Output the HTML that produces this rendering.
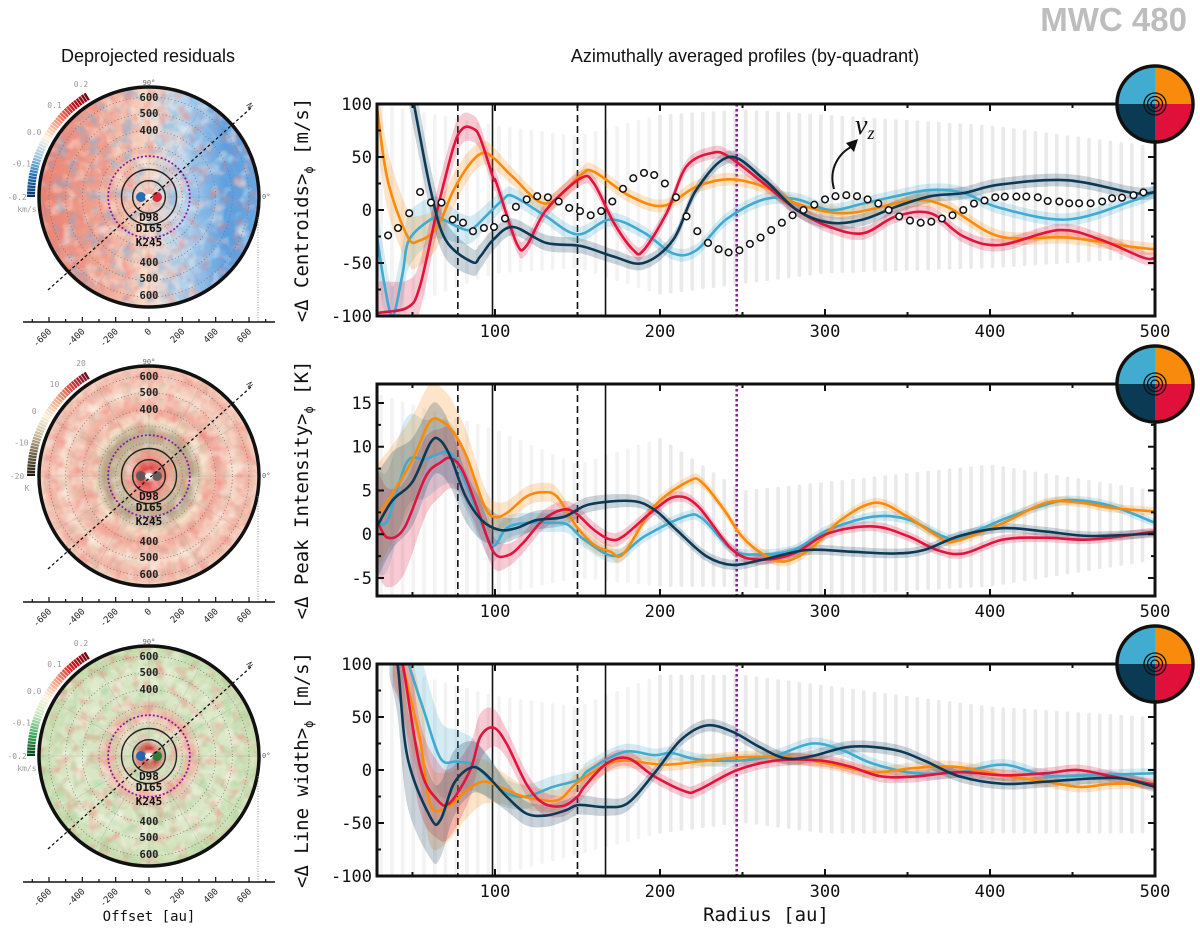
<!DOCTYPE html>
<html><head><meta charset="utf-8">
<style>
html,body{margin:0;padding:0;background:#fff;}
svg{display:block;}
text{font-family:"DejaVu Sans Mono","Liberation Mono",monospace;}
</style></head>
<body>
<svg id="fig" xmlns="http://www.w3.org/2000/svg" width="1200" height="934" viewBox="0 0 1200 934">
<defs>
  <filter id="mottleW" x="0" y="0" width="100%" height="100%">
    <feTurbulence type="fractalNoise" baseFrequency="0.08" numOctaves="2" seed="4"/>
    <feColorMatrix type="matrix" values="0 0 0 0 1  0 0 0 0 0.97  0 0 0 0 0.9  2.2 0 0 0 -1.05"/>
    <feComposite in2="SourceGraphic" operator="in"/>
  </filter>
  <filter id="mRed" x="0" y="0" width="100%" height="100%">
    <feTurbulence type="fractalNoise" baseFrequency="0.09" numOctaves="2" seed="5"/>
    <feColorMatrix type="matrix" values="0 0 0 0 0.88  0 0 0 0 0.22  0 0 0 0 0.2  0 0 2.6 0 -1.25"/>
    <feComposite in2="SourceGraphic" operator="in"/>
  </filter>
  <filter id="mBlue" x="0" y="0" width="100%" height="100%">
    <feTurbulence type="fractalNoise" baseFrequency="0.09" numOctaves="2" seed="17"/>
    <feColorMatrix type="matrix" values="0 0 0 0 0.12  0 0 0 0 0.45  0 0 0 0 0.85  0 0 2.6 0 -1.25"/>
    <feComposite in2="SourceGraphic" operator="in"/>
  </filter>
  <filter id="mBrown" x="0" y="0" width="100%" height="100%">
    <feTurbulence type="fractalNoise" baseFrequency="0.09" numOctaves="2" seed="23"/>
    <feColorMatrix type="matrix" values="0 0 0 0 0.55  0 0 0 0 0.48  0 0 0 0 0.36  0 0 2.6 0 -1.3"/>
    <feComposite in2="SourceGraphic" operator="in"/>
  </filter>
  <filter id="mGreen" x="0" y="0" width="100%" height="100%">
    <feTurbulence type="fractalNoise" baseFrequency="0.09" numOctaves="2" seed="29"/>
    <feColorMatrix type="matrix" values="0 0 0 0 0.35  0 0 0 0 0.65  0 0 0 0 0.33  0 0 2.6 0 -1.25"/>
    <feComposite in2="SourceGraphic" operator="in"/>
  </filter>
  <linearGradient id="g1" x1="0" x2="1" y1="0" y2="0">
    <stop offset="0" stop-color="#e8806f"/><stop offset="0.3" stop-color="#f0a896"/>
    <stop offset="0.5" stop-color="#f6d6c4"/><stop offset="0.66" stop-color="#b8d3ec"/>
    <stop offset="0.85" stop-color="#5d9ddf"/><stop offset="1" stop-color="#6aa6e0"/>
  </linearGradient>
  <radialGradient id="g2" cx="0.5" cy="0.5" r="0.5">
    <stop offset="0" stop-color="#ffffff"/><stop offset="0.07" stop-color="#e23a3a"/>
    <stop offset="0.18" stop-color="#f2a090"/><stop offset="0.27" stop-color="#c9bb9c"/>
    <stop offset="0.4" stop-color="#b3a587"/><stop offset="0.5" stop-color="#f3dcc4"/>
    <stop offset="0.62" stop-color="#f2a99a"/><stop offset="0.78" stop-color="#f6dccb"/>
    <stop offset="0.9" stop-color="#f2b2a2"/><stop offset="1" stop-color="#f6d3c1"/>
  </radialGradient>
  <radialGradient id="g3" cx="0.5" cy="0.5" r="0.5">
    <stop offset="0" stop-color="#ffffff"/><stop offset="0.07" stop-color="#d83030"/>
    <stop offset="0.16" stop-color="#cfe2bf"/><stop offset="0.3" stop-color="#e8d9c0"/>
    <stop offset="0.38" stop-color="#f0b3a3"/><stop offset="0.5" stop-color="#d7e6c3"/>
    <stop offset="0.75" stop-color="#dde8c8"/><stop offset="1" stop-color="#c4dbab"/>
  </radialGradient>
</defs>
<g id="left"></g>
<g id="right"></g>
</svg>
<script>
// ---------------- DATA ----------------
const xTicks = [100, 200, 300, 400, 500];
const cenTicks = [-100, -50, 0, 50, 100];
const piTicks = [-5, 0, 5, 10, 15];
const lwTicks = [-100, -50, 0, 50, 100];

const cenRed = [[28.5,-100],[30,-97],[47,-92],[54.5,-72],[65,0],[75,60],[80.5,77],[86.5,77],[91,68],[99,30],[101,25],[113,-31],[119,-34],[131,0],[152,30],[160,25],[172,-12],[184,-38],[190,-38],[204,-3],[216,41],[232,54],[242,50],[263,25],[283,0],[303,-16],[323,-22],[343,-6],[364,-3],[384,-25],[406,-33],[442,-19],[467,-28],[493,-45],[500,-45]];
const cenOrange = [[28.5,97],[35,28],[47,-25],[54,-29],[65,-16],[75,19],[85,44],[93,54],[100,48],[111,31],[131,6],[152,33],[160,36],[182,13],[202,4],[222,22],[242,29],[263,22],[283,6],[313,-3],[353,9],[374,3],[406,-25],[447,-26],[487,-35],[500,-37]];
const cenCyan = [[28.5,-25],[33,-70],[38,-100],[44,-60],[48,-28],[61,-9],[67,-8],[79,-17],[86,-18],[95,-5],[105,10],[111,13],[130,-5],[150,-23],[170,-9],[190,-21],[208,-41],[222,-38],[240,-9],[263,10],[283,10],[303,0],[323,6],[343,13],[364,19],[384,16],[406,2],[447,-9],[487,9],[500,17]];
const cenNavy = [[46,140],[51,99],[61,19],[70,-28],[86,-49],[91,-44],[99,-28],[111,-16],[131,-31],[152,-34],[172,-44],[190,-50],[208,-28],[222,19],[242,50],[263,29],[283,0],[303,-12],[323,-9],[343,3],[364,13],[384,16],[406,24],[447,28],[487,16],[500,17]];

const vzR = [35.2,41.2,48,54.6,61.2,67.6,74.4,80.6,86.7,93.3,99.4,106.1,112.7,119.2,125.6,132.1,138.6,145,151.5,158,164.4,171.1,177.6,183.8,190.3,196.5,203,209.7,216.1,222.6,229.1,235.5,241.6,248.1,254.5,261,267.4,273.9,280.4,287,293.5,300,306.4,312.9,319.4,325.8,332.3,338.6,345,351.5,358,364.4,370.9,377.3,383.8,390.3,396.7,403.2,409,416,422,429,435,442,448,454,461,468,474,480,487,493];
const vzV = [-24,-17,-3,17,7,7,-9,-12,-20,-17,-16,-8,3,10,13,12,8,2,-1,-5,-1,8,20,30,35,33,25,12,-6,-20,-31,-37,-40,-38,-32,-26,-19,-12,-5,0,5,10,13,14,13,10,6,0,-6,-10,-12,-11,-8,-5,0,6,9,12,12.6,12.6,12.6,12,8.5,8,6.3,6.3,6.3,8,11,11.6,14,16.6];

const piOrange = [[28.5,2.0],[38,4.7],[50,8.5],[60.6,12.9],[68.5,12.8],[74.6,11.7],[83,8.8],[93,3.5],[99,2.0],[107,2.4],[119,4.3],[129,4.8],[137.6,4.3],[149,1.0],[160,-1.2],[170,-2.0],[178,-2.2],[196.6,3.2],[217.7,6.1],[225.6,5.9],[238.8,2.8],[249.4,-0.2],[262.6,-2.3],[275.8,-3.1],[291.7,-1.6],[310,1.7],[331,3.6],[350,2.0],[368,-0.2],[379,-0.8],[408,1.3],[434,3.6],[455,3.6],[474,3.0],[500,2.6]];
const piRed = [[28.5,1.5],[35,-0.4],[45,0.7],[58,6.6],[67,8.2],[73,8.7],[80,7.4],[89,3.1],[99,-2.0],[108,-2.4],[117,-1.0],[129,1.6],[141,2.8],[149,2.4],[160,0.5],[170,-0.6],[178,-0.2],[196.6,2.8],[210,4.3],[223,3.2],[244,-1.8],[260,-2.9],[281,-2.2],[302,0.1],[329,0.9],[350,-0.2],[368,-1.8],[384,-2.2],[408,-0.6],[434,-0.4],[461,-0.6],[500,0.3]];
const piCyan = [[28.5,1.6],[35,1.6],[46.5,8.2],[58,8.6],[73,9.3],[82,5.9],[91,1.6],[99,-1.3],[107,0.7],[119,1.3],[134,1.3],[144,1.1],[154,-0.6],[173,-2.5],[191,-0.2],[215,2.0],[225.6,1.8],[244,-1.8],[260,-2.3],[281,-1.8],[302,0.5],[329,2.0],[350,1.7],[371,-0.2],[381.5,-0.4],[408,1.7],[434,3.4],[450,3.9],[474,3.2],[500,1.3]];
const piNavy = [[28.5,0.9],[38,3.9],[50,6.0],[61,10.5],[67,10.7],[73.6,8.6],[82,4.4],[92,1.6],[102.6,0.5],[113,0.7],[125,1.6],[142,2.0],[157,3.4],[183,3.8],[196.6,2.8],[210,0.5],[228,-2.5],[244,-3.5],[262.6,-2.9],[289,-1.8],[315.5,-2.0],[342,-2.2],[360,-1.8],[381.5,-0.2],[408,0.7],[434,0.3],[461,-0.2],[500,0.1]];

const lwRed = [[38,130],[44,100],[54.6,3],[65,-28],[72.7,-31],[85,0],[91,31],[99,40],[107,25],[119,-13],[129,-31],[141,-34],[150,-25],[154,-16],[167.5,6],[180.7,11],[196.6,-6],[215,-20],[223,-19],[246.8,0],[270.6,9],[297,9],[315.5,3],[334,-6],[355,-6],[381.5,-2],[408,-5],[434,-3],[453,0],[474,-6],[500,-14]];
const lwOrange = [[38,140],[44,100],[54.6,28],[61,-33],[71,-35],[83,-19],[93,-11],[103,-16],[115,-24],[127,-28],[139,-28],[149,-13],[165,3],[178,9],[202,5],[223,8],[249,12],[276,12],[302,6],[329,-2],[355,2],[379,3],[408,-5],[434,-11],[455,-16],[474,-13],[500,-13]];
const lwCyan = [[42,140],[48,99],[56.7,57],[67,11],[77,8],[87,5],[97,-9],[107,-22],[119,-25],[135,-16],[151,-9],[157,0],[178,17],[196.6,14],[207,16],[223,10],[249,9],[270.6,14],[292,25],[310,19],[329,6],[355,-3],[381.5,-2],[408,5],[434,-5],[461,-5],[500,-3]];
const lwNavy = [[36,140],[41,100],[47,12],[61,-45],[67,-47],[75,-13],[85,2],[93,-2],[107,-25],[119,-41],[131,-43],[143,-38],[151,-33],[167.5,-35],[180.7,-31],[196.6,-3],[212.4,28],[228,42],[244,36],[260,22],[276,11],[292,13],[315.5,22],[342,19],[360,9],[381.5,-6],[408,-13],[434,-11],[461,-8],[480,-8],[500,-16]];

const errR = [28, 50, 80, 110, 200, 500];
const cenErr = [30, 25, 14, 8, 6, 6];
const piErr = [6, 5, 3, 1.2, 0.6, 0.5];
const lwErr = [55, 45, 28, 12, 6, 5];

const sprR = [30, 100, 150, 200, 250, 300, 400, 500];
const cenLo = [-100, -60, -55, -80, -70, -60, -55, -45];
const cenHi = [100, 80, 70, 90, 95, 90, 80, 60];
const piLo = [-7, -7, -5, -6, -6, -7, -6, -3];
const piHi = [16, 12, 8, 11, 5, 6, 8, 5];
const lwLo = [-100, -100, -80, -60, -50, -60, -60, -60];
const lwHi = [100, 70, 60, 90, 90, 80, 60, 50];

const gapR = [77.5, 98.5, 150, 167, 246.5];

// ---------------- helpers ----------------
const NS = "http://www.w3.org/2000/svg";
function mk(tag, attrs, parent){const e=document.createElementNS(NS,tag);for(const k in attrs)e.setAttribute(k,attrs[k]);if(parent)parent.appendChild(e);return e;}
const X0=377, X1=1155, R0=28.5, R1=500;
function xs(r){return X0+(r-R0)*(X1-X0)/(R1-R0);}
function ys(p,v){return p.top+(p.max-v)/(p.max-p.min)*(p.bot-p.top);}
function interp(xa,ya,x){if(x<=xa[0])return ya[0];for(let i=1;i<xa.length;i++){if(x<=xa[i]){const t=(x-xa[i-1])/(xa[i]-xa[i-1]);return ya[i-1]+t*(ya[i]-ya[i-1]);}}return ya[ya.length-1];}
function crSeg(pts){let d="";for(let i=0;i<pts.length-1;i++){const p0=pts[Math.max(0,i-1)],p1=pts[i],p2=pts[i+1],p3=pts[Math.min(pts.length-1,i+2)];const c1x=p1[0]+(p2[0]-p0[0])/6,c1y=p1[1]+(p2[1]-p0[1])/6,c2x=p2[0]-(p3[0]-p1[0])/6,c2y=p2[1]-(p3[1]-p1[1])/6;d+=` C${c1x.toFixed(1)},${c1y.toFixed(1)} ${c2x.toFixed(1)},${c2y.toFixed(1)} ${p2[0].toFixed(1)},${p2[1].toFixed(1)}`;}return d;}
function smoothPath(pts){return `M${pts[0][0].toFixed(1)},${pts[0][1].toFixed(1)}`+crSeg(pts);}

const right=document.getElementById('right');
const left=document.getElementById('left');

// ---------------- titles ----------------
let t;
t=mk('text',{x:1187,y:31,'text-anchor':'end','font-size':33,'font-weight':'bold',fill:'#bdbdbd',style:'font-family:"Liberation Sans",sans-serif'},right);t.textContent='MWC 480';

t=mk('text',{x:148,y:62,'text-anchor':'middle','font-size':18,fill:'#111',style:'font-family:"Liberation Sans",sans-serif'},left);t.textContent='Deprojected residuals';

t=mk('text',{x:745,y:62,'text-anchor':'middle','font-size':18,fill:'#111',style:'font-family:"Liberation Sans",sans-serif'},right);t.textContent='Azimuthally averaged profiles (by-quadrant)';


// ---------------- right panels ----------------
const panels=[
 {name:'centroids',top:104,bot:316,min:-100,max:100,ticks:cenTicks,minor:25,err:cenErr,lo:cenLo,hi:cenHi,label:['<Δ Centroids>','[m/s]'],series:[['cyan',cenCyan],['orange',cenOrange],['red',cenRed],['navy',cenNavy]]},
 {name:'peak-intensity',top:384,bot:596,min:-7.06,max:17.17,ticks:piTicks,minor:2.5,err:piErr,lo:piLo,hi:piHi,label:['<Δ Peak Intensity>','[K]'],series:[['cyan',piCyan],['orange',piOrange],['red',piRed],['navy',piNavy]]},
 {name:'line-width',top:664,bot:876,min:-100,max:100,ticks:lwTicks,minor:25,err:lwErr,lo:lwLo,hi:lwHi,label:['<Δ Line width>','[m/s]'],series:[['cyan',lwCyan],['orange',lwOrange],['red',lwRed],['navy',lwNavy]]}
];
const col={red:'#e0143c',orange:'#fb8a08',cyan:'#40aad0',navy:'#0c3a56'};

panels.forEach((p,pi)=>{
  const g=mk('g',{},right);
  
  
  const cid='clip'+pi;
  const cp=mk('clipPath',{id:cid},g);mk('rect',{x:X0,y:p.top,width:X1-X0,height:p.bot-p.top},cp);
  const inner=mk('g',{'clip-path':`url(#${cid})`},g);
  const sc=mk('g',{},inner);
  
  
  for(let r=31;r<=498;r+=6.5){
    const lo=interp(sprR,p.lo,r),hi=interp(sprR,p.hi,r);
    const y1=ys(p,hi),y2=ys(p,lo);
    const b=mk('rect',{x:(xs(r)-1.8).toFixed(1),y:y1.toFixed(1),width:3.6,height:(y2-y1).toFixed(1),rx:1.5,fill:'#dcdcdc',opacity:r<200?0.35:0.6},sc);
    
    
  }
  gapR.forEach((r,i)=>{
    const x=xs(r);
    const a={x1:x,x2:x,y1:p.top,y2:p.bot,stroke:'#111','stroke-width':1.6};
    if(i===0||i===2)a['stroke-dasharray']='7,4';
    if(i===4){a.stroke='#8a1d9e';a['stroke-width']=2.6;a['stroke-dasharray']='2.5,2.5';}
    const l=mk('line',a,inner);
    
    
  });
  p.series.forEach(([c,data])=>{
    const up=data.map(d=>[xs(d[0]),ys(p,d[1]+interp(errR,p.err,d[0]))]);
    const dn=data.map(d=>[xs(d[0]),ys(p,d[1]-interp(errR,p.err,d[0]))]).reverse();
    const d=smoothPath(up)+` L${dn[0][0].toFixed(1)},${dn[0][1].toFixed(1)}`+crSeg(dn)+' Z';
    const b=mk('path',{d:d,fill:col[c],opacity:0.22},inner);
    
    
  });
  p.series.forEach(([c,data])=>{
    const pts=data.map(d=>[xs(d[0]),ys(p,d[1])]);
    const l=mk('path',{d:smoothPath(pts),fill:'none',stroke:col[c],'stroke-width':2.6,'stroke-linejoin':'round'},inner);
    
    
  });
  if(pi===0){
    const vg=mk('g',{},inner);
    
    
    vzR.forEach((r,i)=>{
      const c=mk('circle',{cx:xs(r).toFixed(1),cy:ys(p,vzV[i]).toFixed(1),r:3.3,fill:'#fff',stroke:'#111','stroke-width':1.5},vg);
      
      
    });
  }
  const fr=mk('rect',{x:X0,y:p.top,width:X1-X0,height:p.bot-p.top,fill:'none',stroke:'#111','stroke-width':3},g);
  
  
  const xa=mk('g',{},g);
  
  
  for(let r=50;r<=500;r+=50){
    const x=xs(r),L=(r%100===0)?7:4;
    mk('line',{x1:x,x2:x,y1:p.bot,y2:p.bot-L,stroke:'#111','stroke-width':2},xa);
    mk('line',{x1:x,x2:x,y1:p.top,y2:p.top+L,stroke:'#111','stroke-width':2},xa);
  }
  xTicks.forEach(v=>{
    const tl=mk('text',{x:xs(v),y:p.bot+21,'text-anchor':'middle','font-size':17,fill:'#111'},xa);tl.textContent=v;
    
    
  });
  const ya=mk('g',{},g);
  
  
  for(let v=Math.ceil(p.min/p.minor)*p.minor;v<=p.max;v+=p.minor){
    const y=ys(p,v),major=p.ticks.indexOf(v)>=0,L=major?7:4;
    mk('line',{x1:X0,x2:X0+L,y1:y,y2:y,stroke:'#111','stroke-width':2},ya);
    mk('line',{x1:X1,x2:X1-L,y1:y,y2:y,stroke:'#111','stroke-width':2},ya);
  }
  p.ticks.forEach(v=>{
    const tl=mk('text',{x:X0-5,y:ys(p,v)+6,'text-anchor':'end','font-size':17,fill:'#111'},ya);tl.textContent=v;
    
    
  });
  const cy=(p.top+p.bot)/2;
  const yl=mk('text',{transform:`translate(308,${cy}) rotate(-90)`,'text-anchor':'middle','font-size':19,fill:'#111'},g);
  
  
  const s1=mk('tspan',{},yl);s1.textContent=p.label[0];
  const s2=mk('tspan',{'font-size':12,dy:5},yl);s2.textContent='ϕ';
  const s3=mk('tspan',{dy:-5},yl);s3.textContent=' '+p.label[1];
  const lg=mk('g',{transform:`translate(1155,${p.top})`},g);
  
  
  const R=38;
  mk('path',{d:`M0,0 L${-R},0 A${R},${R} 0 0 1 0,${-R} Z`,fill:'#42acd0'},lg);
  mk('path',{d:`M0,0 L0,${-R} A${R},${R} 0 0 1 ${R},0 Z`,fill:'#f88a0c'},lg);
  mk('path',{d:`M0,0 L${R},0 A${R},${R} 0 0 1 0,${R} Z`,fill:'#e0103a'},lg);
  mk('path',{d:`M0,0 L0,${R} A${R},${R} 0 0 1 ${-R},0 Z`,fill:'#0b3a55'},lg);
  mk('circle',{cx:0,cy:0,r:R,fill:'none',stroke:'#111','stroke-width':3.5},lg);
  [11,7.5,4].forEach(rr=>mk('circle',{cx:0,cy:0,r:rr,fill:'none',stroke:'#111','stroke-width':1.3},lg));
});

t=mk('text',{x:766,y:921,'text-anchor':'middle','font-size':19,fill:'#111'},right);t.textContent='Radius [au]';


const va=mk('g',{},right);


t=mk('text',{x:855,y:134,'font-size':28,'font-style':'italic',fill:'#111',style:'font-family:"Liberation Serif",serif'},va);
const tv=mk('tspan',{},t);tv.textContent='v';const tz=mk('tspan',{'font-size':18,dy:5},t);tz.textContent='z';
mk('path',{d:'M834,189 C828,168 840,152 853,146',fill:'none',stroke:'#111','stroke-width':2},va);
mk('path',{d:'M858,139 L846,143 L854,152 Z',fill:'#111'},va);

// ---------------- left disks ----------------
const disks=[
 {cy:197,axisY:322,grad:'g1',m1:'mRed',m2:'mBlue',cmap:['#08306b','#2171b5','#9ecae1','#fdf3e1','#fc9272','#cb181d','#67000d'],cb:['-0.2','-0.1','0.0','0.1','0.2'],unit:'km/s',name:'centroid-residual-map'},
 {cy:476,axisY:602,grad:'g2',m1:'mRed',m2:'mBrown',cmap:['#1e1a10','#6e6048','#c9bd9e','#fbf0dc','#f4a582','#d23a3a','#67001f'],cb:['-20','-10','0','10','20'],unit:'K',name:'peak-intensity-residual-map'},
 {cy:756,axisY:882,grad:'g3',m1:'mRed',m2:'mGreen',cmap:['#00441b','#41ab5d','#c7e9c0','#fdf3e1','#fc9272','#cb181d','#67000d'],cb:['-0.2','-0.1','0.0','0.1','0.2'],unit:'km/s',name:'line-width-residual-map'}
];
const CX=149,DR=110,S=0.1667;
function lerpCol(a,b,t){const pa=[1,3,5].map(i=>parseInt(a.substr(i,2),16)),pb=[1,3,5].map(i=>parseInt(b.substr(i,2),16));return 'rgb('+pa.map((v,i)=>Math.round(v+(pb[i]-v)*t)).join(',')+')';}
disks.forEach((D,di)=>{
  const g=mk('g',{},left);
  
  
  const cid='dclip'+di;
  const cp=mk('clipPath',{id:cid},g);mk('circle',{cx:CX,cy:D.cy,r:DR},cp);
  const ig=mk('g',{'clip-path':`url(#${cid})`},g);
  mk('circle',{cx:CX,cy:D.cy,r:DR,fill:`url(#${D.grad})`},ig);
  mk('rect',{x:CX-DR,y:D.cy-DR,width:2*DR,height:2*DR,fill:'#fff',opacity:0.55,filter:`url(#${D.m1})`},ig);
  mk('rect',{x:CX-DR,y:D.cy-DR,width:2*DR,height:2*DR,fill:'#fff',opacity:0.55,filter:`url(#${D.m2})`},ig);
  mk('rect',{x:CX-DR,y:D.cy-DR,width:2*DR,height:2*DR,fill:'#fff',opacity:0.6,filter:'url(#mottleW)'},ig);
  for(let a=100;a<=600;a+=100)mk('circle',{cx:CX,cy:D.cy,r:a*S,fill:'none',stroke:'#777','stroke-width':0.8,'stroke-dasharray':'1,2.5'},ig);
  for(let k=0;k<12;k++){const an=k*Math.PI/6;mk('line',{x1:CX,y1:D.cy,x2:CX+DR*Math.cos(an),y2:D.cy-DR*Math.sin(an),stroke:'#999','stroke-width':0.5,opacity:0.5},ig);}
  mk('circle',{cx:CX-8,cy:D.cy,r:5,fill:di===1?'#555':'#1560b0',opacity:0.9},ig);
  mk('circle',{cx:CX+8,cy:D.cy,r:5,fill:di===1?'#555':(di===0?'#d01c2a':'#1d7a35'),opacity:0.9},ig);
  mk('ellipse',{cx:CX,cy:D.cy,rx:4,ry:3,fill:'#fff'},ig);
  mk('circle',{cx:CX,cy:D.cy,r:98*S,fill:'none',stroke:'#222','stroke-width':1.4},ig);
  mk('circle',{cx:CX,cy:D.cy,r:165*S,fill:'none',stroke:'#222','stroke-width':1.4},ig);
  mk('circle',{cx:CX,cy:D.cy,r:245*S,fill:'none',stroke:'#8a1d9e','stroke-width':1.8,'stroke-dasharray':'2,2'},ig);
  mk('line',{x1:48,y1:D.cy+93,x2:252,y2:D.cy-90,stroke:'#111','stroke-width':1.3,'stroke-dasharray':'3,2.5'},g);
  mk('circle',{cx:CX,cy:D.cy,r:DR,fill:'none',stroke:'#111','stroke-width':3.5},g);
  [['600',-100],['500',-84],['400',-67],['400',65],['500',81],['600',98]].forEach(([s,dy])=>{
    const tl=mk('text',{x:CX,y:D.cy+dy+4,'text-anchor':'middle','font-size':10.5,'font-weight':'bold',fill:'#222'},g);tl.textContent=s;
    
  });
  [['D98',24],['D165',35],['K245',49]].forEach(([s,dy])=>{
    const tl=mk('text',{x:CX,y:D.cy+dy,'text-anchor':'middle','font-size':11,'font-weight':'bold',fill:'#111'},g);tl.textContent=s;
    
  });
  t=mk('text',{x:CX,y:D.cy-DR-2,'text-anchor':'middle','font-size':7,fill:'#666'},g);t.textContent='90°';
  t=mk('text',{transform:`translate(246,${D.cy-92}) rotate(60)`,'font-size':8,fill:'#333'},g);t.textContent='N';
  t=mk('text',{x:CX+DR+3,y:D.cy+2,'font-size':7,fill:'#666'},g);t.textContent='0°';
  const cb=mk('g',{},g);
  
  
  const RA=118,N=40,a0=180,a1=121;
  for(let k=0;k<N;k++){
    const f0=k/N,f1=(k+1)/N;
    const an0=(a0+(a1-a0)*f0)*Math.PI/180,an1=(a0+(a1-a0)*f1+0.3)*Math.PI/180;
    const pos=f0*(D.cmap.length-1),i=Math.min(D.cmap.length-2,Math.floor(pos));
    const c=lerpCol(D.cmap[i],D.cmap[i+1],pos-i);
    mk('path',{d:`M${CX+RA*Math.cos(an0)},${D.cy-RA*Math.sin(an0)} A${RA},${RA} 0 0 1 ${CX+RA*Math.cos(an1)},${D.cy-RA*Math.sin(an1)}`,fill:'none',stroke:c,'stroke-width':8},cb);
  }
  D.cb.forEach((s,i)=>{
    const an=(a0+(a1-a0)*i/4)*Math.PI/180,rr=RA+14;
    const tl=mk('text',{transform:`translate(${CX+rr*Math.cos(an)},${D.cy-rr*Math.sin(an)+3})`,'text-anchor':'middle','font-size':8,fill:'#999'},cb);
    tl.textContent=s;
  });
  t=mk('text',{x:27,y:D.cy+15,'text-anchor':'middle','font-size':8,fill:'#999'},cb);t.textContent=D.unit;
  mk('line',{x1:258,x2:258,y1:D.cy+20,y2:D.axisY,stroke:'#777','stroke-width':0.8,'stroke-dasharray':'1,1.5'},g);
  const ax=mk('g',{},g);
  
  
  mk('line',{x1:23,x2:275,y1:D.axisY,y2:D.axisY,stroke:'#111','stroke-width':1.6},ax);
  for(let a=-700;a<=700;a+=100){const x=CX+a*S;mk('line',{x1:x,x2:x,y1:D.axisY,y2:D.axisY-(a%200===0?5:3),stroke:'#111','stroke-width':1.2},ax);}
  for(let a=-600;a<=600;a+=200){
    const x=CX+a*S;
    const tl=mk('text',{transform:`translate(${x+3},${D.axisY+10}) rotate(-45)`,'text-anchor':'end','font-size':9,fill:'#222'},ax);tl.textContent=a;
    
  }
});
t=mk('text',{x:149,y:921,'text-anchor':'middle','font-size':14,fill:'#111'},left);t.textContent='Offset [au]';

</script>
</body></html>
